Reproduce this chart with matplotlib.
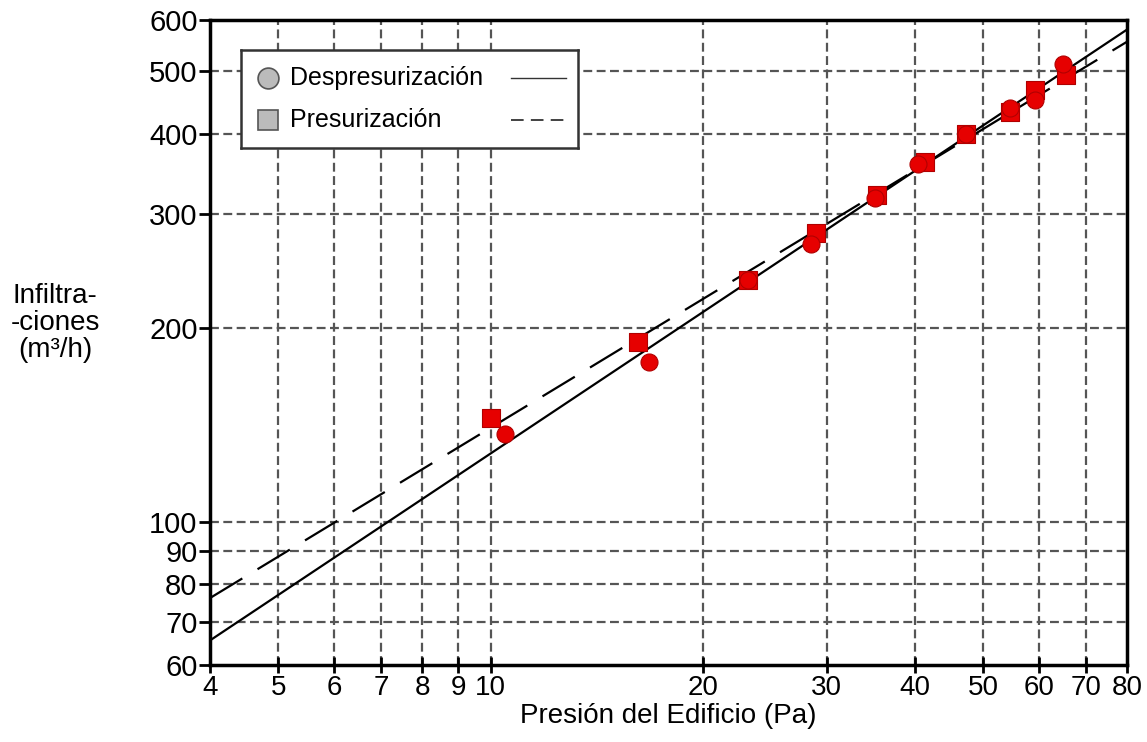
import matplotlib
matplotlib.use("Agg")
import matplotlib.pyplot as plt
import numpy as np
from matplotlib.ticker import FixedLocator, FixedFormatter, NullLocator

plt.rcParams["font.family"] = ["Liberation Sans", "DejaVu Sans"]

# measured points (pressure Pa, flow m3/h)
pres_x = [10.0, 16.2, 23.2, 29.0, 35.3, 41.3, 47.2, 54.6, 59.2, 65.5]
pres_y = [145, 190, 237, 281, 321, 361, 400, 432, 467, 493]
depres_x = [10.5, 16.8, 23.2, 28.5, 35.1, 40.4, 47.2, 54.6, 59.2, 64.9]
depres_y = [137, 177, 237, 270, 318, 359, 400, 438, 451, 513]

# fitted power laws Q = C * (P/4)^n
depres_fit = (65.5, 0.728)
pres_fit = (76.2, 0.663)

x_ticks = [4, 5, 6, 7, 8, 9, 10, 20, 30, 40, 50, 60, 70, 80]
y_ticks = [60, 70, 80, 90, 100, 200, 300, 400, 500, 600]
legend_labels = ["Despresurización", "Presurización"]

fig = plt.figure(figsize=(11.47, 7.42), dpi=100)
ax = fig.add_axes([0.1831, 0.1038, 0.7995, 0.8692])
ax.set_xscale("log")
ax.set_yscale("log")
ax.set_xlim(4, 80)
ax.set_ylim(60, 600)

for v in x_ticks[1:-1]:
    ax.axvline(v, color="#555555", lw=1.6, ls=(0, (4, 2)), zorder=1)
for v in y_ticks[1:-1]:
    ax.axhline(v, color="#555555", lw=1.6, ls=(0, (4, 2)), zorder=1)

px = np.array([4, 80])
ax.plot(px, depres_fit[0] * (px / 4) ** depres_fit[1], color="black", lw=1.6, zorder=2)
ax.plot(px, pres_fit[0] * (px / 4) ** pres_fit[1], color="black", lw=1.6,
        ls=(0, (17, 8)), zorder=2)

ax.scatter(pres_x, pres_y, marker="s", s=150, color="#e60000", edgecolor="#b00000",
           linewidth=0.8, zorder=3)
ax.scatter(depres_x, depres_y, marker="o", s=150, color="#e60000", edgecolor="#b00000",
           linewidth=0.8, zorder=4)

ax.xaxis.set_major_locator(FixedLocator(x_ticks))
ax.xaxis.set_major_formatter(FixedFormatter([str(v) for v in x_ticks]))
ax.xaxis.set_minor_locator(NullLocator())
ax.yaxis.set_major_locator(FixedLocator(y_ticks))
ax.yaxis.set_major_formatter(FixedFormatter([str(v) for v in y_ticks]))
ax.yaxis.set_minor_locator(NullLocator())
ax.tick_params(axis="x", direction="inout", length=12, width=2, labelsize=20, pad=1)
ax.tick_params(axis="y", direction="out", length=8, width=2, labelsize=21, pad=1)
for lab in ax.get_xticklabels():
    lab.set_family(["Liberation Sans Narrow", "Liberation Sans", "DejaVu Sans"])
for sp in ax.spines.values():
    sp.set_linewidth(2.5)

ax.set_xlabel("Presión del Edificio (Pa)", fontsize=20, labelpad=2)
fig.text(0.048, 0.565, "Infiltra-\n-ciones\n(m³/h)", fontsize=20,
         ha="center", va="center", linespacing=1.05)

# legend box: markers on the left, line samples on the right
lg = fig.add_axes([241 / 1147, 1 - 148 / 742, 337 / 1147, 98 / 742], zorder=5)
lg.set_xlim(0, 337)
lg.set_ylim(98, 0)
lg.set_xticks([])
lg.set_yticks([])
for sp in lg.spines.values():
    sp.set_linewidth(1.8)
    sp.set_color("#333333")
lg.plot([27], [28], marker="o", ms=15, mfc="#bbbbbb", mec="#555555", mew=1.2)
lg.plot([27], [70], marker="s", ms=14, mfc="#bbbbbb", mec="#555555", mew=1.2)
lg.text(49, 28, legend_labels[0], fontsize=18, va="center")
lg.text(49, 70, legend_labels[1], fontsize=18, va="center")
lg.plot([270, 325], [28, 28], color="#333333", lw=1)
lg.plot([270, 325], [70, 70], color="#333333", lw=1.3, ls=(0, (7, 4)))

fig.savefig("out.png", dpi=100)
